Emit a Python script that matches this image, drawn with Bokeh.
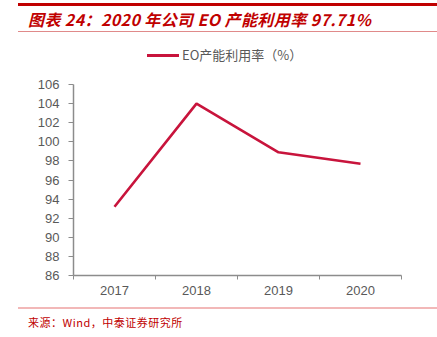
from bokeh.plotting import figure
from bokeh.models import Range1d, FixedTicker, Div, ColumnDataSource
from bokeh.layouts import column
from bokeh.embed import file_html
from bokeh.resources import INLINE

years = ["2017", "2018", "2019", "2020"]
utilization = [93.2, 104.0, 98.9, 97.71]
y_ticks = [86, 88, 90, 92, 94, 96, 98, 100, 102, 104, 106]
title_text = "图表 24：2020 年公司 EO 产能利用率 97.71%"
source_text = "来源：Wind，中泰证券研究所"
series_name = "EO产能利用率（%）"

W = 437
HEAD_H, FIG_H, FOOT_H = 70, 230, 37
FL, FR, FT, FB = 73, 36, 14, 25
line_color = "#C8143C"

xs = [i + 0.5 for i in range(len(years))]
src = ColumnDataSource(dict(x=xs, y=utilization))

p = figure(width=W, height=FIG_H, output_backend="svg", toolbar_location=None,
           x_range=Range1d(0, len(years)), y_range=Range1d(86, 106),
           min_border_left=FL, min_border_right=FR, min_border_top=FT,
           min_border_bottom=FB, margin=0, sizing_mode="fixed")
p.outline_line_color = None
p.grid.visible = False

r = p.line("x", "y", source=src, line_color=line_color, line_width=2.6)

grey = "#8c8c8c"
lab = "#595959"
font = "Liberation Sans"

xa = p.xaxis[0]
xa.ticker = FixedTicker(ticks=xs, minor_ticks=list(range(len(years) + 1)))
xa.major_label_overrides = {x: y for x, y in zip(xs, years)}
xa.major_tick_line_color = None
xa.major_tick_out = 4
xa.minor_tick_out = 4
xa.minor_tick_in = 0
xa.minor_tick_line_color = grey
xa.axis_line_color = grey
xa.axis_line_width = 1.5
xa.major_label_text_color = lab
xa.major_label_text_font = font
xa.major_label_text_font_size = "13px"
xa.major_label_standoff = 6

ya = p.yaxis[0]
ya.ticker = FixedTicker(ticks=y_ticks)
ya.major_tick_out = 5
ya.major_tick_in = 0
ya.minor_tick_line_color = None
ya.major_tick_line_color = grey
ya.axis_line_color = grey
ya.axis_line_width = 1.5
ya.major_label_text_color = lab
ya.major_label_text_font = font
ya.major_label_text_font_size = "13px"
ya.major_label_standoff = 9

head = Div(width=W, height=HEAD_H, margin=0, sizing_mode="fixed", text=f"""
<div style="position:relative;width:{W}px;height:{HEAD_H}px;overflow:hidden">
<div style="position:absolute;left:18px;top:3px;width:{W-18}px;height:3px;background:#C00000"></div>
<div style="position:absolute;left:28px;top:9px;font-family:'Noto Sans CJK SC';font-weight:bold;font-style:italic;font-size:16px;line-height:20px;letter-spacing:0.4px;color:#C00000;white-space:nowrap">{title_text}</div>
<div style="position:absolute;left:18px;top:31px;width:{W-18}px;height:1px;background:#E08A8A"></div>
<div style="position:absolute;left:147px;top:54px;width:32px;height:3px;background:{line_color}"></div>
<div style="position:absolute;left:182px;top:46px;font-family:'Noto Sans CJK SC';font-size:13px;line-height:18px;color:{lab};white-space:nowrap">{series_name}</div>
</div>""")

foot = Div(width=W, height=FOOT_H, margin=0, sizing_mode="fixed", text=f"""
<div style="position:relative;width:{W}px;height:{FOOT_H}px;overflow:hidden">
<div style="position:absolute;left:18px;top:7px;width:{W-18}px;height:2px;background:#F2B8B8"></div>
<div style="position:absolute;left:28px;top:14px;font-family:'Noto Sans CJK SC';font-size:11px;line-height:16px;letter-spacing:0.5px;color:#C00000;white-space:nowrap">{source_text}</div>
</div>""")

layout = column(head, p, foot, spacing=0, margin=0, sizing_mode="fixed",
                width=W, height=HEAD_H + FIG_H + FOOT_H)
open("out.html", "w").write(file_html(layout, INLINE))
